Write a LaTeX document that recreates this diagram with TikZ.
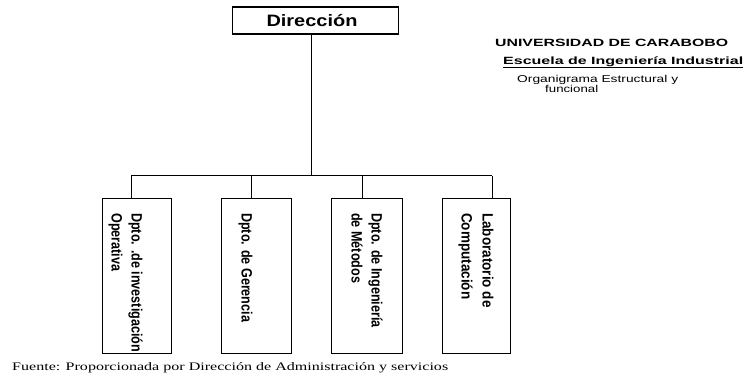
\documentclass[tikz,border=0pt]{standalone}
\usepackage{fontspec}
\setmainfont{Liberation Sans}
\newfontfamily\timesf{Liberation Serif}
\usepackage{graphicx}
\begin{document}
\begin{tikzpicture}[x=1pt,y=-1pt,
  orgbox/.style={draw, line width=1.1pt, inner sep=0pt, anchor=north west},
  conn/.style={draw, line width=1pt},
  vtext/.style={rotate=-90, anchor=base west, inner sep=0pt, font=\fontsize{15}{17}\selectfont\bfseries},
  htext/.style={anchor=base west, inner sep=0pt}]
\useasboundingbox (0,0) rectangle (744,379);
\fill[white] (0,0) rectangle (744,379);

% top box
\node[orgbox, minimum width=166pt, minimum height=27pt] (dir) at (232,6.5) {};
\node[anchor=base, inner sep=0pt] (dirt) at (312,26.7)
  {\resizebox{91pt}{\height}{\fontsize{16.5}{18}\selectfont\bfseries Dirección}};

% department boxes
\node[orgbox, minimum width=69pt, minimum height=155pt] (b1) at (102,198) {};
\node[orgbox, minimum width=70pt, minimum height=155pt] (b2) at (221,198) {};
\node[orgbox, minimum width=71pt, minimum height=155pt] (b3) at (331,198) {};
\node[orgbox, minimum width=68pt, minimum height=155pt] (b4) at (442,198) {};

% connectors
\coordinate (trunk) at (311,176);
\coordinate (d1) at (131,176);
\coordinate (d2) at (251,176);
\coordinate (d3) at (362,176);
\coordinate (d4) at (492,176);
\draw[conn] (dir.south -| trunk) -- (trunk);
\draw[conn] (d1) -- (d4);
\draw[conn] (d1) -- (d1 |- b1.north);
\draw[conn] (d2) -- (d2 |- b2.north);
\draw[conn] (d3) -- (d3 |- b3.north);
\draw[conn] (d4) -- (d4 |- b4.north);

% rotated texts
\node[vtext] (t1a) at (131.5,213) {\scalebox{0.84}[1]{Dpto. .de investigación}};
\node[vtext] (t1b) at (111.5,213) {\scalebox{0.84}[1]{Operativa}};
\node[vtext] (t2a) at (241.5,213) {\scalebox{0.84}[1]{Dpto. de Gerencia}};
\node[vtext] (t3a) at (371.5,213) {\scalebox{0.84}[1]{Dpto. de Ingeniería}};
\node[vtext] (t3b) at (351.5,213) {\scalebox{0.84}[1]{de Métodos}};
\node[vtext] (t4a) at (482.5,213) {\scalebox{0.9}[1]{Laboratorio de}};
\node[vtext] (t4b) at (461.5,213) {\scalebox{0.9}[1]{Computación}};

% title block
\node[htext] (uni) at (495,46.5)
  {\resizebox{233pt}{\height}{\fontsize{10.5}{12}\selectfont\bfseries UNIVERSIDAD DE CARABOBO}};
\node[htext] (esc) at (503,64.5)
  {\resizebox{240pt}{\height}{\fontsize{10.5}{12}\selectfont\bfseries Escuela de Ingeniería Industrial}};
\draw[line width=0.9pt] ([yshift=-2.5pt]esc.base west) -- ([yshift=-2.5pt]esc.base east);
\node[htext] (org) at (517,82.5)
  {\resizebox{161pt}{\height}{\fontsize{10}{11}\selectfont Organigrama Estructural y}};
\node[htext] (fun) at (545,92.5)
  {\resizebox{53pt}{\height}{\fontsize{10}{11}\selectfont funcional}};

% source
\node[htext] (src) at (12,370.5)
  {\resizebox{436pt}{\height}{\fontsize{11.5}{13}\selectfont\timesf Fuente: Proporcionada por Dirección de Administración y servicios}};
\end{tikzpicture}
\end{document}
